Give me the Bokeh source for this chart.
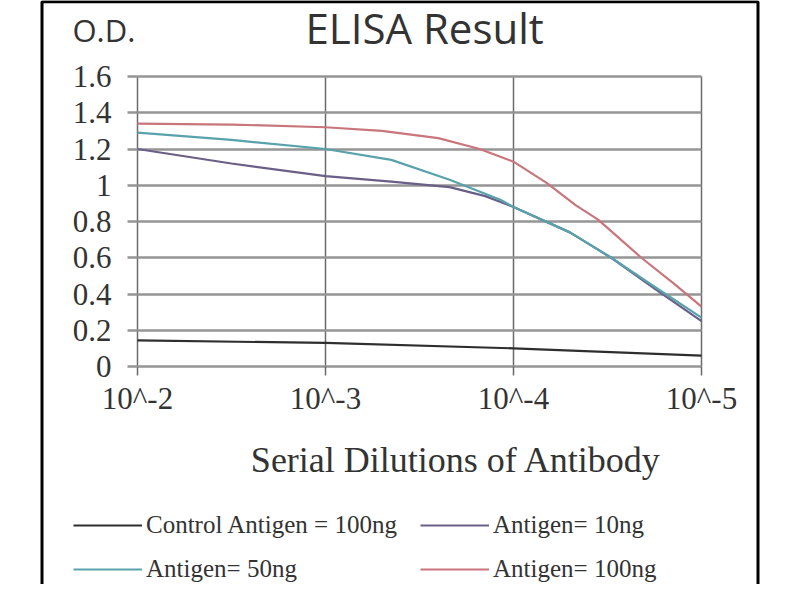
from bokeh.plotting import figure
from bokeh.models import (Label, Legend, LegendItem, FixedTicker, Range1d,
                          BoxAnnotation, Grid)
from bokeh.embed import file_html
from bokeh.resources import INLINE

# ---- data (x = dilution exponent, i.e. 10^-x) ----
x_ticks = [2, 3, 4, 5]
x_tick_labels = ["10^-2", "10^-3", "10^-4", "10^-5"]
y_ticks = [0, 0.2, 0.4, 0.6, 0.8, 1.0, 1.2, 1.4, 1.6]
y_tick_labels = ["0", "0.2", "0.4", "0.6", "0.8", "1", "1.2", "1.4", "1.6"]

control_x = [2.0, 3.0, 4.0, 5.0]
control_y = [0.144, 0.13, 0.10, 0.06]

ag10_x = [2.0, 2.5, 3.0, 3.35, 3.66, 3.85, 4.0, 4.3, 4.52, 4.75, 5.0]
ag10_y = [1.20, 1.12, 1.05, 1.02, 0.99, 0.94, 0.88, 0.74, 0.60, 0.43, 0.25]

ag50_x = [2.0, 2.5, 3.0, 3.35, 3.66, 3.93, 4.0, 4.3, 4.52, 4.75, 5.0]
ag50_y = [1.29, 1.25, 1.20, 1.14, 1.03, 0.92, 0.88, 0.74, 0.60, 0.44, 0.27]

ag100_x = [2.0, 2.5, 3.0, 3.3, 3.6, 3.82, 4.0, 4.18, 4.33, 4.45, 4.68, 4.85, 5.0]
ag100_y = [1.34, 1.335, 1.32, 1.30, 1.26, 1.20, 1.13, 1.01, 0.89, 0.81, 0.60, 0.46, 0.33]

series_names = ["Control Antigen = 100ng", "Antigen= 10ng", "Antigen= 50ng", "Antigen= 100ng"]
series_colors = ["#2e2e2e", "#6a5f86", "#58a3ab", "#c8757c"]

# ---- layout: the plot frame covers the whole canvas; the data region is
# placed through the ranges (188 px per decade, 181.25 px per O.D. unit) ----
W, H = 784, 584
X0, X1 = 2 - 137 / 188, 2 + (W - 137) / 188
Y0, Y1 = -(H - 366) / 181.25, 366 / 181.25
p = figure(width=W, height=H, output_backend="svg", toolbar_location=None,
           x_range=Range1d(X0, X1), y_range=Range1d(Y0, Y1), min_border=0)
p.background_fill_color = "white"
p.border_fill_color = "white"
p.outline_line_color = None
p.title.visible = False

# axes drawn at fixed data positions inside the frame
p.xaxis.fixed_location = 0
p.yaxis.fixed_location = 2
p.xaxis.ticker = FixedTicker(ticks=x_ticks)
p.yaxis.ticker = FixedTicker(ticks=y_ticks)
p.xaxis.major_label_overrides = {t: l for t, l in zip(x_ticks, x_tick_labels)}
p.yaxis.major_label_overrides = {t: l for t, l in zip(y_ticks, y_tick_labels)}
for ax in (p.xaxis, p.yaxis):
    ax.axis_line_color = None
    ax.minor_tick_line_color = None
    ax.major_tick_in = 0
    ax.major_label_text_font = "Liberation Serif"
    ax.major_label_text_font_size = "31px"
    ax.major_label_text_color = "#333333"
p.xaxis.major_tick_out = 9
p.xaxis.major_tick_line_color = "#6a6a6a"
p.xaxis.major_tick_line_width = 1.5
p.xaxis.major_label_standoff = 5
p.yaxis.major_tick_out = 10
p.yaxis.major_tick_line_color = "#959595"
p.yaxis.major_tick_line_width = 2.5
p.yaxis.major_label_standoff = 16

# grids limited to the data region
p.xgrid.ticker = FixedTicker(ticks=x_ticks)
p.ygrid.ticker = FixedTicker(ticks=y_ticks)
p.xgrid.grid_line_color = "#6a6a6a"
p.xgrid.grid_line_width = 1.5
p.ygrid.grid_line_color = "#959595"
p.ygrid.grid_line_width = 2.5
if "cross_bounds" in Grid.properties():
    p.xgrid.cross_bounds = (y_ticks[0], y_ticks[-1])
    p.ygrid.cross_bounds = (x_ticks[0], x_ticks[-1])
else:
    p.xgrid.visible = False
    p.ygrid.visible = False
    p.segment(x0=x_ticks, x1=x_ticks, y0=[y_ticks[0]] * len(x_ticks),
              y1=[y_ticks[-1]] * len(x_ticks), line_color="#6a6a6a", line_width=1.5)
    p.segment(x0=[x_ticks[0]] * len(y_ticks), x1=[x_ticks[-1]] * len(y_ticks),
              y0=y_ticks, y1=y_ticks, line_color="#959595", line_width=2.5)

# curves
xs = [control_x, ag10_x, ag50_x, ag100_x]
ys = [control_y, ag10_y, ag50_y, ag100_y]
renderers = []
for x, y, c in zip(xs, ys, series_colors):
    r = p.line(x, y, line_color=c, line_width=2.2)
    renderers.append(r)

items = [LegendItem(label=n, renderers=[r]) for n, r in zip(series_names, renderers)]
legend = Legend(items=items, orientation="horizontal", ncols=2,
                location=(73, 0), glyph_width=69, glyph_height=30,
                label_height=30, label_width=260, label_standoff=4, spacing=14,
                padding=0, margin=0, border_line_color=None,
                background_fill_alpha=0,
                label_text_font="Liberation Serif", label_text_font_size="25px",
                label_text_color="#333333")
p.add_layout(legend)

# texts
p.add_layout(Label(x=3.527, y=1.868, text="ELISA Result", text_align="center",
                   text_baseline="alphabetic", text_font="Open Sans",
                   text_font_size="42px", text_color="#333333"))
p.add_layout(Label(x=1.654, y=1.854, text="O.D.", text_align="left",
                   text_baseline="alphabetic", text_font="Open Sans",
                   text_font_size="31px", text_color="#333333"))
p.add_layout(Label(x=3.72, y=-0.515, text="Serial Dilutions  of Antibody",
                   text_align="center", text_baseline="alphabetic",
                   text_font="Liberation Serif", text_font_size="36px",
                   text_color="#333333"))

# outer black frame of the picture (screen units from the canvas bottom-left)
p.add_layout(BoxAnnotation(left=41.5, right=757.5, top=H - 1.3, bottom=-10,
                           left_units="screen", right_units="screen",
                           top_units="screen", bottom_units="screen",
                           fill_alpha=0, line_color="black", line_width=3,
                           line_alpha=1))

open("out.html", "w").write(file_html(p, INLINE))
